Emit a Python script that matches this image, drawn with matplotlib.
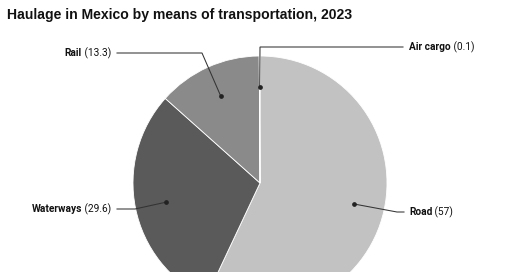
import numpy as np
import matplotlib.pyplot as plt

plt.rcParams['font.family'] = ['Roboto', 'DejaVu Sans']

# data
modes = ['Road', 'Waterways', 'Rail', 'Air cargo']
shares = [57, 29.6, 13.3, 0.1]
value_text = ['57', '29.6', '13.3', '0.1']
colors = ['#c2c2c2', '#5a5a5a', '#8a8a8a', '#3a3a3a']

# label layout (pixels, y measured from top): elbow point, end of leader, text x, text y, side
label_layout = {
    'Road': ((397, 212), 404, 409, 212, 'right'),
    'Waterways': ((135, 209), 117, 111, 209, 'left'),
    'Rail': ((202, 53), 117, 111, 53, 'left'),
    'Air cargo': ((260, 47), 403, 409, 47, 'right'),
}

W, H = 520, 272
cx, cy, R = 260, H - 183, 127

fig = plt.figure(figsize=(W / 100, H / 100), dpi=100)
ax = fig.add_axes([0, 0, 1, 1])
wedges, _ = ax.pie(shares, colors=colors, startangle=90, counterclock=False,
                   center=(cx, cy), radius=R,
                   wedgeprops=dict(edgecolor='white', linewidth=0.6))
ax.set_xlim(0, W)
ax.set_ylim(0, H)
ax.set_aspect('auto')
ax.axis('off')

fig.canvas.draw()
rend = fig.canvas.get_renderer()

for w, name, val in zip(wedges, modes, value_text):
    mid = np.deg2rad((w.theta1 + w.theta2) / 2)
    px = cx + 0.755 * R * np.cos(mid)
    py = cy + 0.755 * R * np.sin(mid)
    (ex, ey), endx, tx, ty, side = label_layout[name]
    ey = H - ey
    ty = H - ty
    ax.plot([px, ex, endx], [py, ey, ey], color='#333333', lw=0.75,
            solid_joinstyle='miter')
    ax.plot(px, py, 'o', color='#222222', ms=2.4)
    if side == 'right':
        t1 = ax.text(tx, ty, name, fontsize=7.3, fontweight='bold',
                     ha='left', va='center', color='#111111')
        bb = t1.get_window_extent(rend)
        ax.text(bb.x1, ty, f' ({val})', fontsize=7.3, ha='left',
                va='center', color='#111111')
    else:
        t2 = ax.text(tx, ty, f' ({val})', fontsize=7.3, ha='right',
                     va='center', color='#111111')
        bb = t2.get_window_extent(rend)
        ax.text(bb.x0, ty, name, fontsize=7.3, fontweight='bold',
                ha='right', va='center', color='#111111')

fig.text(7 / W, 1 - 15.5 / H, 'Haulage in Mexico by means of transportation, 2023',
         family=['Liberation Sans', 'DejaVu Sans'], fontweight='bold',
         fontsize=10.1, ha='left', va='center', color='#111111')

fig.savefig('out.png', dpi=100)
